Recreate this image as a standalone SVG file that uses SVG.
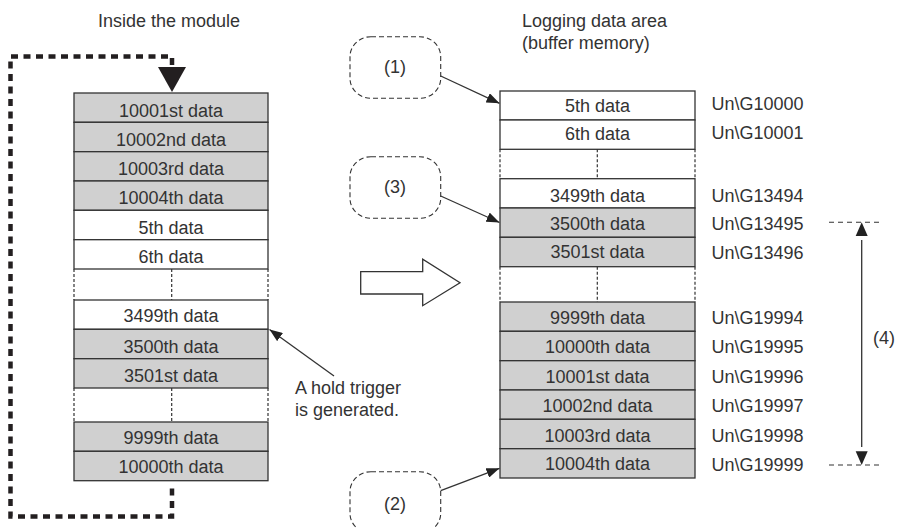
<svg xmlns="http://www.w3.org/2000/svg" width="897" height="528" viewBox="0 0 897 528">
<defs>
<style>
text{font-family:"Liberation Sans",Arial,sans-serif;font-size:18px;fill:#333}
.c{text-anchor:middle}
.g{fill:#d0d0d0;stroke:#333;stroke-width:1.3}
.w{fill:#fff;stroke:#333;stroke-width:1.3}
.gap{stroke:#333;stroke-width:1.2;stroke-dasharray:3 2;fill:none}
.bub{fill:#fff;stroke:#333;stroke-width:1.1;stroke-dasharray:5 3}
.ln{stroke:#333;stroke-width:1.3;fill:none}
.dl{stroke:#333;stroke-width:1.1;stroke-dasharray:5 4;fill:none}
</style>
<marker id="ah" viewBox="0 0 13 10" refX="13" refY="5" markerWidth="13" markerHeight="10" orient="auto" markerUnits="userSpaceOnUse"><path d="M0,0 L13,5 L0,10 z" fill="#222"/></marker>
</defs>
<rect width="897" height="528" fill="#fff"/>

<text x="98" y="27">Inside the module</text>
<text x="522" y="27">Logging data area</text>
<text x="522" y="49">(buffer memory)</text>

<g id="left-column">
<g id="L1"><rect class="g" x="74" y="93" width="194" height="29.3"/><text class="c" x="171" y="116.5">10001st data</text></g>
<g id="L2"><rect class="g" x="74" y="122.3" width="194" height="29.4"/><text class="c" x="171" y="145.5">10002nd data</text></g>
<g id="L3"><rect class="g" x="74" y="151.7" width="194" height="29.3"/><text class="c" x="171" y="175">10003rd data</text></g>
<g id="L4"><rect class="g" x="74" y="181" width="194" height="29.3"/><text class="c" x="171" y="204">10004th data</text></g>
<g id="L5"><rect class="w" x="74" y="210.3" width="194" height="29.4"/><text class="c" x="171" y="233.5">5th data</text></g>
<g id="L6"><rect class="w" x="74" y="239.7" width="194" height="29.3"/><text class="c" x="171" y="262.7">6th data</text></g>
<g id="Lgap1"><path class="gap" d="M74,269V300M171.7,269V300M268,269V300"/></g>
<g id="L7"><rect class="w" x="74" y="300" width="194" height="29.3"/><text class="c" x="171" y="321.7">3499th data</text></g>
<g id="L8"><rect class="g" x="74" y="329.3" width="194" height="29.4"/><text class="c" x="171" y="352.5">3500th data</text></g>
<g id="L9"><rect class="g" x="74" y="358.7" width="194" height="29.3"/><text class="c" x="171" y="381.7">3501st data</text></g>
<g id="Lgap2"><path class="gap" d="M74,388V422M171.7,388V422M268,388V422"/></g>
<g id="L10"><rect class="g" x="74" y="422" width="194" height="29.3"/><text class="c" x="171" y="444">9999th data</text></g>
<g id="L11"><rect class="g" x="74" y="451.3" width="194" height="29.4"/><text class="c" x="171" y="473.3">10000th data</text></g>
</g>

<g id="right-column">
<g id="R1"><rect class="w" x="500" y="91" width="195" height="29"/><text class="c" x="597.5" y="111.5">5th data</text></g>
<g id="R2"><rect class="w" x="500" y="120" width="195" height="29.3"/><text class="c" x="597.5" y="140">6th data</text></g>
<g id="Rgap1"><path class="gap" d="M500,149.3V178.7M597.3,149.3V178.7M695,149.3V178.7"/></g>
<g id="R3"><rect class="w" x="500" y="178.7" width="195" height="29.3"/><text class="c" x="597.5" y="201.5">3499th data</text></g>
<g id="R4"><rect class="g" x="500" y="208" width="195" height="29.3"/><text class="c" x="597.5" y="230">3500th data</text></g>
<g id="R5"><rect class="g" x="500" y="237.3" width="195" height="29.4"/><text class="c" x="597.5" y="258.3">3501st data</text></g>
<g id="Rgap2"><path class="gap" d="M500,266.7V302M597.3,266.7V302M695,266.7V302"/></g>
<g id="R6"><rect class="g" x="500" y="302" width="195" height="29.3"/><text class="c" x="597.5" y="324">9999th data</text></g>
<g id="R7"><rect class="g" x="500" y="331.3" width="195" height="29.4"/><text class="c" x="597.5" y="353.3">10000th data</text></g>
<g id="R8"><rect class="g" x="500" y="360.7" width="195" height="29.3"/><text class="c" x="597.5" y="382.7">10001st data</text></g>
<g id="R9"><rect class="g" x="500" y="390" width="195" height="29.3"/><text class="c" x="597.5" y="412">10002nd data</text></g>
<g id="R10"><rect class="g" x="500" y="419.3" width="195" height="29.4"/><text class="c" x="597.5" y="441.7">10003rd data</text></g>
<g id="R11"><rect class="g" x="500" y="448.7" width="195" height="29.3"/><text class="c" x="597.5" y="470">10004th data</text></g>
</g>

<g id="addresses">
<text x="711.5" y="110">Un\G10000</text>
<text x="711.5" y="138.5">Un\G10001</text>
<text x="711.5" y="201.5">Un\G13494</text>
<text x="711.5" y="229.8">Un\G13495</text>
<text x="711.5" y="259">Un\G13496</text>
<text x="711.5" y="324">Un\G19994</text>
<text x="711.5" y="353">Un\G19995</text>
<text x="711.5" y="382.5">Un\G19996</text>
<text x="711.5" y="411.5">Un\G19997</text>
<text x="711.5" y="441.5">Un\G19998</text>
<text x="711.5" y="470.5">Un\G19999</text>
</g>

<g id="callout1"><rect class="bub" x="350" y="36.7" width="90.7" height="61.6" rx="21" ry="20"/><text class="c" x="395" y="73">(1)</text></g>
<g id="callout3"><rect class="bub" x="350" y="156.7" width="90.7" height="61.6" rx="21" ry="20"/><text class="c" x="395" y="193">(3)</text></g>
<g id="callout2"><rect class="bub" x="350" y="471.7" width="90.7" height="61.6" rx="21" ry="20"/><text class="c" x="395" y="510">(2)</text></g>

<g id="trigger-label">
<text x="295" y="394">A hold trigger</text>
<text x="295" y="416">is generated.</text>
</g>

<g id="span4"><text x="873" y="344">(4)</text></g>

<g id="big-arrow"><path d="M360.7,271.7H422.7V259.3L460,282.7L422.7,305.7V294H360.7Z" fill="#fff" stroke="#333" stroke-width="1.3"/></g>

<g id="connectors">
<path d="M172,65V56.5H10.5V516.5H172V488" fill="none" stroke="#231f20" stroke-width="4.5" stroke-dasharray="7 5.5"/>
<path d="M158,67H186L172,92Z" fill="#231f20"/>
<line class="ln" x1="440.7" y1="76" x2="499.5" y2="103.3" marker-end="url(#ah)"/>
<line class="ln" x1="440.7" y1="196" x2="499.5" y2="222.5" marker-end="url(#ah)"/>
<line class="ln" x1="440.7" y1="490.7" x2="499.5" y2="468.3" marker-end="url(#ah)"/>
<line class="ln" x1="334" y1="376" x2="269.5" y2="329.5" marker-end="url(#ah)"/>
<path class="dl" d="M829,222.3H882M829,465H882"/>
<line class="ln" x1="861.7" y1="240" x2="861.7" y2="447"/>
<path d="M855.7,236L861.7,222.3L867.7,236Z" fill="#222"/>
<path d="M855.7,451.3L861.7,465L867.7,451.3Z" fill="#222"/>
</g>
</svg>
